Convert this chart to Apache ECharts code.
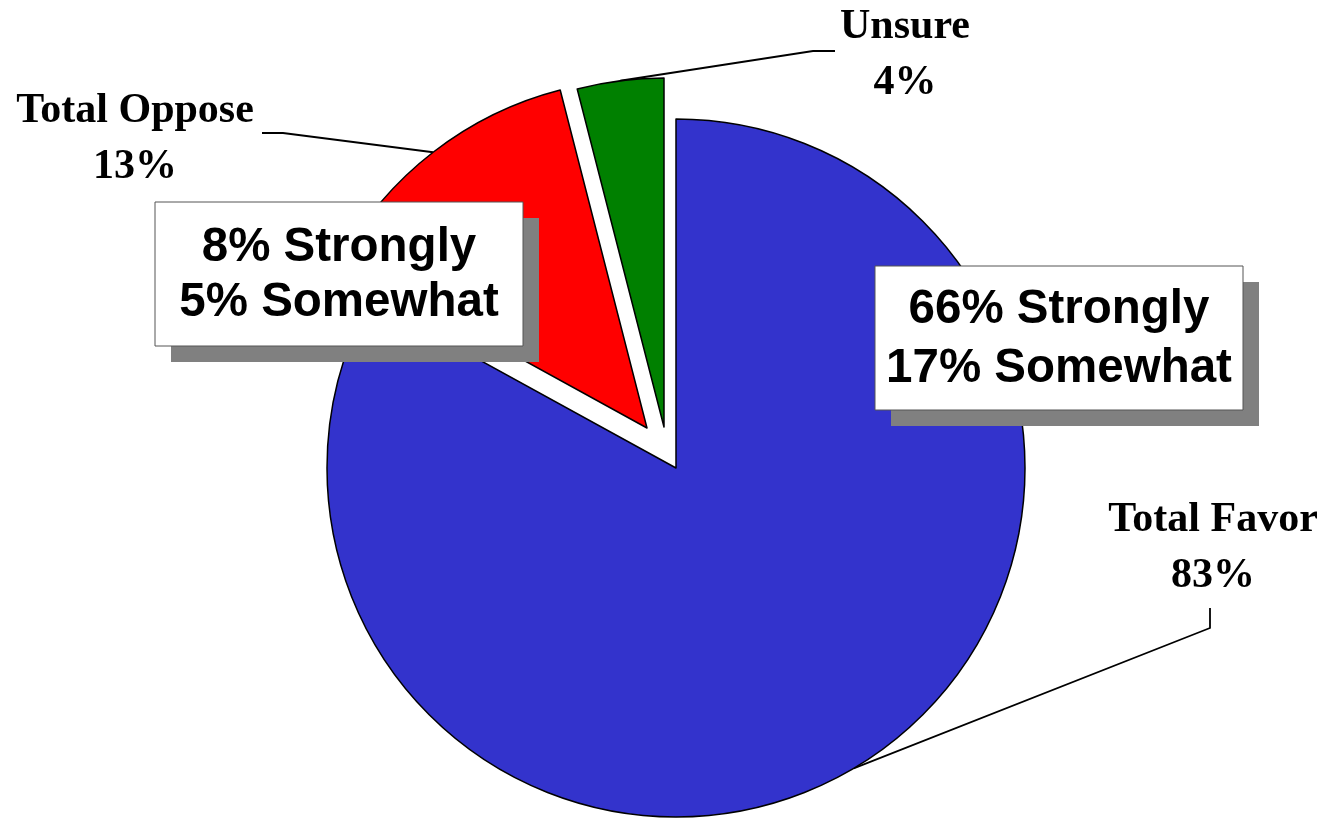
<!DOCTYPE html>
<html><head><meta charset="utf-8">
<script src="https://cdn.jsdelivr.net/npm/echarts@6/dist/echarts.min.js"></script>
<style>html,body{margin:0;padding:0;background:#fff}#c{width:1330px;height:822px}</style>
</head><body><div id="c"></div>
<script>
const categories = ['Total Favor', 'Total Oppose', 'Unsure'];
const values = [83, 13, 4];
const colors = ['#3333CC', '#FF0000', '#008000'];
const breakdownLabels = ['Strongly', 'Somewhat'];
const favorBreakdown = [66, 17];
const opposeBreakdown = [8, 5];

// layout
const centers = [[676, 468], [647, 428], [664, 427]];
const R = 349;
const labelPos = [[1213, 548], [135, 139], [905, 55]];
const labelBend = [[1210, 628], [283, 133], [813, 51]];
const labelEnd = [[1210, 608], [262, 133], [835, 51]];

const total = values.reduce((a, b) => a + b, 0);
function midAngle(i) { let s = 0; for (let k = 0; k < i; k++) s += values[k]; return (s + values[i] / 2) / total * 2 * Math.PI; }
function edgePoint(i) { const a = midAngle(i); return [centers[i][0] + R * Math.sin(a), centers[i][1] - R * Math.cos(a)]; }

const series = categories.map((name, si) => ({
  type: 'pie', center: centers[si], radius: R, startAngle: 90, clockwise: true,
  animation: false, silent: true, avoidLabelOverlap: false,
  data: categories.map((n, i) => ({
    name: n, value: values[i],
    itemStyle: i === si ? { color: colors[i], borderColor: '#000', borderWidth: 1.5 } : { color: 'rgba(0,0,0,0)', borderWidth: 0 },
    label: { show: i === si }, labelLine: { show: i === si }
  })),
  label: {
    position: 'outside', formatter: p => p.name + '\n' + p.value + '%',
    fontFamily: '"Liberation Serif", "Times New Roman", serif', fontWeight: 'bold',
    fontSize: 42, lineHeight: 56, color: '#000', align: 'center'
  },
  labelLine: { lineStyle: { color: '#000', width: 1.8 }, length: 20, length2: 20 },
  labelLayout: p => {
    const i = p.dataIndex;
    return { x: labelPos[i][0], y: labelPos[i][1], align: 'center', verticalAlign: 'middle',
      labelLinePoints: [edgePoint(i), labelBend[i], labelEnd[i]] };
  }
}));

const boxes = [
  { x: 155, y: 202, w: 368, h: 144, lh: 55, vals: opposeBreakdown },
  { x: 875, y: 266, w: 368, h: 144, lh: 59, vals: favorBreakdown }
];
const graphic = [];
boxes.forEach(b => {
  graphic.push({ type: 'rect', z: 100, shape: { x: b.x + 16, y: b.y + 16, width: b.w, height: b.h }, style: { fill: '#808080' } });
  graphic.push({ type: 'rect', z: 101, shape: { x: b.x, y: b.y, width: b.w, height: b.h }, style: { fill: '#fff', stroke: '#555', lineWidth: 1 } });
  graphic.push({ type: 'text', z: 102, x: b.x + b.w / 2, y: b.y + b.h / 2 + 1,
    style: { text: b.vals.map((v, k) => v + '% ' + breakdownLabels[k]).join('\n'),
      fontFamily: '"Liberation Sans", Arial, sans-serif', fontWeight: 'bold', fontSize: 47.5,
      lineHeight: b.lh, align: 'center', verticalAlign: 'middle', fill: '#000' } });
});

const chart = echarts.init(document.getElementById('c'));
chart.setOption({ backgroundColor: '#fff', animation: false, series, graphic });
</script></body></html>
